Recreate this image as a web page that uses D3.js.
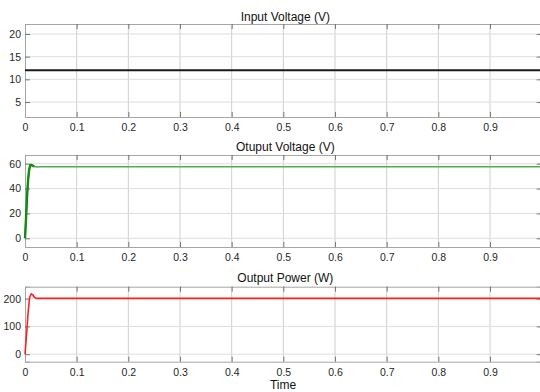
<!DOCTYPE html>
<html><head><meta charset="utf-8">
<script src="https://cdn.jsdelivr.net/npm/d3@7"></script>
<style>
html,body{margin:0;padding:0;background:#fff;overflow:hidden;}
svg{display:block;font-family:"Liberation Sans",Arial,Helvetica,sans-serif;}
</style></head>
<body>
<svg id="chart" width="540" height="392"></svg>
<script>
// ---- data ----
const titles = ["Input Voltage (V)", "Otuput Voltage (V)", "Output Power (W)"];
const xTicks = [0, 0.1, 0.2, 0.3, 0.4, 0.5, 0.6, 0.7, 0.8, 0.9, 1];
const xTickLabels = ["0","0.1","0.2","0.3","0.4","0.5","0.6","0.7","0.8","0.9",""];
const inputTime = [0, 1];
const inputVoltage = [12, 12];
const outTime = [0, 0.002, 0.004, 0.006, 0.008, 0.010, 0.012, 0.015, 0.018, 0.022, 0.03, 0.05, 1.0];
const outVoltage = [0, 16, 34, 47, 55, 58.6, 59, 58.4, 57.7, 57.4, 57.6, 57.6, 57.6];
const powTime = [0, 0.003, 0.006, 0.009, 0.012, 0.015, 0.018, 0.022, 0.03, 1.0];
const outPower = [0, 70, 150, 205, 217, 214, 205, 201, 201, 201];
const yTicks1 = [5, 10, 15, 20];
const yTicks2 = [0, 20, 40, 60];
const yTicks3 = [0, 100, 200];

// ---- layout ----
const svg = d3.select("#chart");
const left = 25, right = 541.7;
const x = d3.scaleLinear().domain([0, 1]).range([left, right]);

const panels = [
  {top: 24, bottom: 117, domain: [1.7, 22.2], ticks: yTicks1, title: titles[0], tOff: 3,
   series: [{t: inputTime, v: inputVoltage, color: "#1a1a1a", width: 2}]},
  {top: 155, bottom: 247, domain: [-7, 67], ticks: yTicks2, title: titles[1], tOff: 4,
   series: [{t: outTime, v: outVoltage, color: "#4cb04c", width: 1.6},
            {t: outTime.slice(0, 9), v: outVoltage.slice(0, 9), color: "#138a13", width: 2.4}]},
  {top: 286.7, bottom: 361.7, domain: [-27, 243], ticks: yTicks3, title: titles[2], tOff: 4.5,
   series: [{t: powTime, v: outPower, color: "#ff1f1f", width: 1.6}]}
];

panels.forEach((p, i) => {
  const y = d3.scaleLinear().domain(p.domain).range([p.bottom, p.top]);
  const g = svg.append("g");

  // grid
  g.append("g").selectAll("line").data(xTicks.slice(1, -1)).join("line")
    .attr("x1", d => x(d)).attr("x2", d => x(d))
    .attr("y1", p.top).attr("y2", p.bottom)
    .attr("stroke", "#cfcfcf").attr("stroke-width", 1);
  g.append("g").selectAll("line").data(p.ticks).join("line")
    .attr("x1", left).attr("x2", right)
    .attr("y1", d => y(d)).attr("y2", d => y(d))
    .attr("stroke", "#dedede").attr("stroke-width", 1);

  // axes (ticks inward)
  const xb = d3.axisBottom(x).tickValues(xTicks).tickSize(-5).tickPadding(7)
    .tickFormat((d, k) => xTickLabels[k]);
  const xt = d3.axisTop(x).tickValues(xTicks).tickSize(-5).tickFormat("");
  const yl = d3.axisLeft(y).tickValues(p.ticks).tickSize(-5).tickPadding(4);
  const yr = d3.axisRight(y).tickValues(p.ticks).tickSize(-5).tickFormat("");

  [[xb, `translate(0,${p.bottom})`], [xt, `translate(0,${p.top})`],
   [yl, `translate(${left},0)`], [yr, `translate(${right},0)`]].forEach(([ax, tr]) => {
    const a = g.append("g").attr("transform", tr).call(ax);
    a.select(".domain").attr("stroke", "#a6a6a6");
    a.selectAll(".tick line").attr("stroke", "#5a5a5a").attr("stroke-width", 0.8);
    a.selectAll("text").attr("fill", "#262626").style("font-size", "10.5px")
      .style("font-family", "'Liberation Sans',Arial,sans-serif");
  });

  // series
  const line = d3.line().x(d => x(d[0])).y(d => y(d[1]));
  p.series.forEach(s => {
    g.append("path")
      .datum(s.t.map((t, k) => [t, s.v[k]]))
      .attr("d", line)
      .attr("fill", "none")
      .attr("stroke", s.color)
      .attr("stroke-width", s.width)
      .attr("stroke-linejoin", "round");
  });

  // title
  g.append("text")
    .attr("x", (left + right) / 2 + 2).attr("y", p.top - p.tOff)
    .attr("text-anchor", "middle")
    .style("font-size", "12px").attr("fill", "#111")
    .text(p.title);
});

svg.append("text")
  .attr("x", 283).attr("y", 389)
  .attr("text-anchor", "middle")
  .style("font-size", "12px").attr("fill", "#111")
  .text("Time");
</script>
</body></html>
